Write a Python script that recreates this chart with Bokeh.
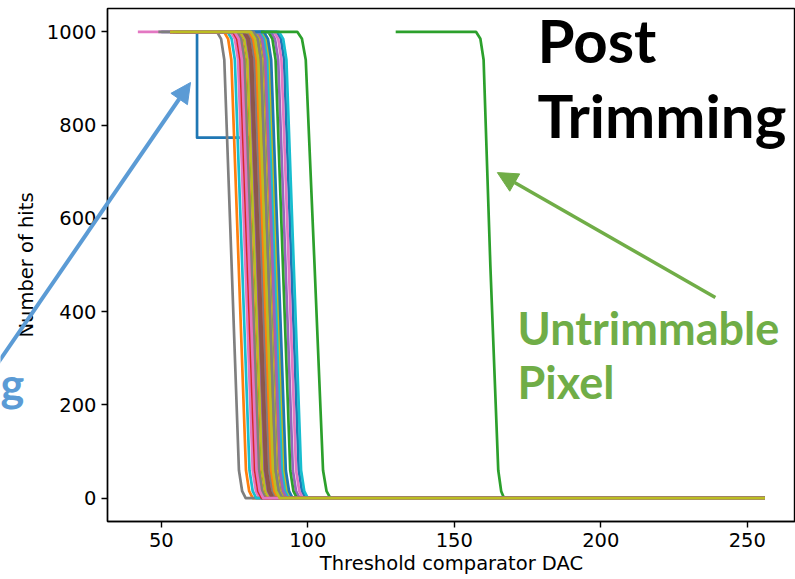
from bokeh.plotting import figure
from bokeh.models import Label, Arrow, NormalHead, Range1d, FixedTicker
from bokeh.layouts import column
from bokeh.embed import file_html
from bokeh.resources import INLINE

# ---- data ----
# Hit levels at the knots of every threshold scan (plateau, upper knee, middle, lower knee, zero)
HITS_LEVELS = [1000, 1000, 985, 940, 500, 60, 15, 0, 0]

# DAC values at those knots for each pixel's S-curve (drawing order = colour cycle order)
PIXEL_SCAN_X = [
    None,                                                        # 0 blue step pixel
    [53, 71.4, 72.8, 73.9, 76.4, 78.9, 80.0, 81.2, 256],         # 1 orange
    [54, 76.9, 78.3, 79.4, 81.9, 84.4, 85.5, 86.7, 256],         # 2 green
    [55, 75.4, 76.8, 77.9, 80.4, 82.9, 84.0, 85.2, 256],         # 3 red
    [53, 78.1, 79.5, 80.6, 83.1, 85.6, 86.7, 87.9, 256],         # 4 purple
    [56, 81.3, 82.7, 83.8, 86.3, 88.8, 89.9, 91.1, 256],         # 5 brown
    [42, 73.7, 75.1, 76.2, 78.7, 81.2, 82.3, 83.5, 256],         # 6 pink
    [49, 69.0, 70.4, 71.5, 74.0, 76.5, 77.6, 78.8, 256],         # 7 gray
    [57, 84.3, 85.7, 86.8, 89.3, 91.8, 92.9, 94.1, 256],         # 8 olive
    [53, 72.6, 74.0, 75.1, 77.6, 80.1, 81.2, 82.4, 256],         # 9 cyan
    [55, 82.0, 83.4, 84.5, 87.0, 89.5, 90.6, 91.8, 256],         # 10 blue
    [54, 82.8, 84.2, 85.3, 87.8, 90.3, 91.4, 92.6, 256],         # 11 orange
    [130, 157.4, 158.9, 160.0, 162.3, 165.0, 166.0, 167.0, 256], # 12 green (untrimmable)
    [56, 77.5, 78.9, 80.0, 82.5, 85.0, 86.1, 87.3, 256],         # 13 red
    [58, 87.4, 88.8, 89.9, 92.4, 94.9, 96.0, 97.2, 256],         # 14 purple
    [55, 79.8, 81.2, 82.3, 84.8, 87.3, 88.4, 89.6, 256],         # 15 brown
    [54, 78.9, 80.3, 81.4, 83.9, 86.4, 87.5, 88.7, 256],         # 16 pink
    [53, 79.4, 80.8, 81.9, 84.4, 86.9, 88.0, 89.2, 256],         # 17 gray
    [57, 81.8, 83.2, 84.3, 86.8, 89.3, 90.4, 91.6, 256],         # 18 olive
    [56, 83.6, 85.0, 86.1, 88.6, 91.1, 92.2, 93.4, 256],         # 19 cyan
    [59, 89.4, 90.8, 91.9, 94.4, 96.9, 98.0, 99.2, 256],         # 20 blue
    [53, 76.0, 77.4, 78.5, 81.0, 83.5, 84.6, 85.8, 256],         # 21 orange
    [58, 86.5, 87.9, 89.0, 91.5, 94.0, 95.1, 96.3, 256],         # 22 green
    [55, 80.2, 81.6, 82.7, 85.2, 87.7, 88.8, 90.0, 256],         # 23 red
    [57, 83.0, 84.4, 85.5, 88.0, 90.5, 91.6, 92.8, 256],         # 24 purple
    [54, 78.5, 79.9, 81.0, 83.5, 86.0, 87.1, 88.3, 256],         # 25 brown
    [59, 88.5, 89.9, 91.0, 93.5, 96.0, 97.1, 98.3, 256],         # 26 pink
    [53, 75.8, 77.2, 78.3, 80.8, 83.3, 84.4, 85.6, 256],         # 27 gray
    [55, 77.0, 78.4, 79.5, 82.0, 84.5, 85.6, 86.8, 256],         # 28 olive
    [60, 90.2, 91.6, 92.7, 95.2, 97.7, 98.8, 100.0, 256],        # 29 cyan
    [57, 85.0, 86.4, 87.5, 90.0, 92.5, 93.6, 94.8, 256],         # 30 blue
    [56, 80.0, 81.4, 82.5, 85.0, 87.5, 88.6, 89.8, 256],         # 31 orange
    [84, 96.4, 98.0, 99.3, 102.3, 105.2, 106.4, 107.7, 256],     # 32 green (late pixel)
    [53, 74.5, 75.9, 77.0, 79.5, 82.0, 83.1, 84.3, 256],         # 33 red
    [54, 77.8, 79.2, 80.3, 82.8, 85.3, 86.4, 87.6, 256],         # 34 purple
    [55, 78.0, 79.4, 80.5, 83.0, 85.5, 86.6, 87.8, 256],         # 35 brown
    [53, 75.0, 76.4, 77.5, 80.0, 82.5, 83.6, 84.8, 256],         # 36 pink
    [54, 81.5, 82.9, 84.0, 86.5, 89.0, 90.1, 91.3, 256],         # 37 gray
    [53, 80.6, 82.0, 83.1, 85.6, 88.1, 89.2, 90.4, 256],         # 38 olive
]

# The blue pixel with a step at ~770 hits
BLUE_STEP_X = [50, 62.2, 62.2, 80.0, 81.2, 83.6, 86.1, 87.2, 88.4, 256]
BLUE_STEP_Y = [1000, 1000, 773, 773, 750, 450, 60, 15, 0, 0]

X_TICKS = [50, 100, 150, 200, 250]
Y_TICKS = [0, 200, 400, 600, 800, 1000]

TAB10 = ["#1f77b4", "#ff7f0e", "#2ca02c", "#d62728", "#9467bd",
         "#8c564b", "#e377c2", "#7f7f7f", "#bcbd22", "#17becf"]

W, H = 795, 579

# ---- main figure ----
p = figure(width=W, height=H, output_backend="svg", toolbar_location=None,
           x_range=Range1d(31.64, 266.45), y_range=Range1d(-50, 1050),
           min_border_left=107, min_border_right=0, min_border_top=8,
           min_border_bottom=58)
p.background_fill_color = "white"
p.border_fill_color = "white"
p.outline_line_color = "black"
p.outline_line_width = 1.4
p.grid.visible = False

xs, ys, cols = [], [], []
for i, xk in enumerate(PIXEL_SCAN_X):
    if xk is None:
        xs.append(BLUE_STEP_X)
        ys.append(BLUE_STEP_Y)
    else:
        xs.append(xk)
        ys.append(HITS_LEVELS)
    cols.append(TAB10[i % 10])

p.multi_line(xs=xs, ys=ys, line_color=cols, line_width=2.7, line_join="round")

for ax in (p.xaxis[0], p.yaxis[0]):
    ax.axis_line_width = 1.4
    ax.major_tick_line_width = 1.4
    ax.major_tick_out = 6
    ax.major_tick_in = 0
    ax.minor_tick_line_color = None
    ax.major_label_text_font = "DejaVu Sans"
    ax.major_label_text_font_size = "19.5px"
    ax.major_label_text_color = "black"
    ax.axis_label_text_font = "DejaVu Sans"
    ax.axis_label_text_font_size = "19.5px"
    ax.axis_label_text_font_style = "normal"
    ax.axis_label_text_color = "black"

p.xaxis[0].ticker = FixedTicker(ticks=X_TICKS)
p.yaxis[0].ticker = FixedTicker(ticks=Y_TICKS)
p.xaxis[0].axis_label = "Threshold comparator DAC"
p.yaxis[0].axis_label = "Number of hits"
p.xaxis[0].major_label_standoff = 5
p.yaxis[0].major_label_standoff = 5
p.xaxis[0].axis_label_standoff = 2
p.yaxis[0].axis_label_standoff = 6

# ---- annotations inside the axes ----
GREEN = "#70ad47"
BLUE = "#5b9bd5"
for txt, yy in (("Post", 983.5), ("Trimming", 822.3)):
    p.add_layout(Label(x=178.4, y=yy, text=txt, text_font="Lato",
                       text_font_style="bold", text_font_size="60px",
                       text_color="black", text_baseline="alphabetic"))
for txt, yy in (("Untrimmable", 365.0), ("Pixel", 249.5)):
    p.add_layout(Label(x=171.6, y=yy, text=txt, text_font="Lato",
                       text_font_style="bold", text_font_size="45px",
                       text_color=GREEN, text_baseline="alphabetic"))

p.add_layout(Arrow(x_start=239.1, y_start=430.4, x_end=164.7, y_end=698.1,
                   line_color=GREEN, line_width=3.5,
                   end=NormalHead(size=20, fill_color=GREEN, line_color=GREEN)))

# ---- transparent overlay (page pixels) for the callout that crosses the axis ----
q = figure(width=W, height=H, output_backend="svg", toolbar_location=None,
           x_range=Range1d(0, W), y_range=Range1d(H, 0),
           min_border_left=0, min_border_right=0, min_border_top=0,
           min_border_bottom=0)
q.axis.visible = False
q.grid.visible = False
q.outline_line_color = None
q.background_fill_alpha = 0
q.border_fill_alpha = 0
q.styles = {"position": "absolute", "top": "0px", "left": "0px"}
for fig in (p, q):
    try:
        fig.frame_align = False
    except Exception:
        pass

q.add_layout(Arrow(x_start=-5, y_start=366, x_end=190, y_end=82,
                   line_color=BLUE, line_width=4,
                   end=NormalHead(size=20, fill_color=BLUE, line_color=BLUE)))
q.add_layout(Label(x=0, y=383, text="g", text_font="Lato",
                   text_font_style="bold", text_font_size="45px",
                   text_color=BLUE, text_baseline="alphabetic"))

layout = column(p, q)
open("out.html", "w").write(file_html(layout, INLINE))
